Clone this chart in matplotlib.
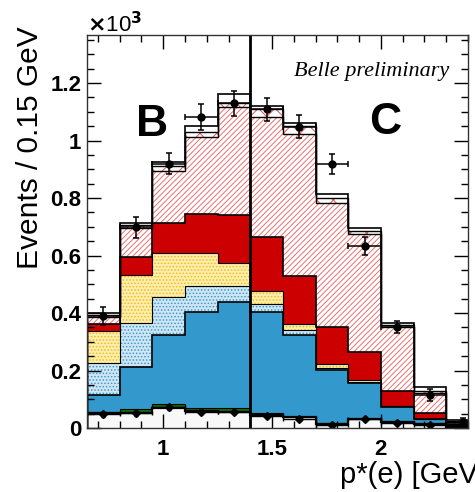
import numpy as np
import matplotlib
matplotlib.use("Agg")
import matplotlib.pyplot as plt
from matplotlib.ticker import MultipleLocator, FuncFormatter

plt.rcParams['font.family'] = ['Liberation Sans', 'DejaVu Sans']
plt.rcParams['font.weight'] = 'bold'
plt.rcParams['hatch.linewidth'] = 0.7

# bin edges of p*(e) [GeV], 0.15 GeV wide
bin_edges = [0.65, 0.80, 0.95, 1.10, 1.25, 1.40, 1.55, 1.70, 1.85, 2.00, 2.15, 2.30, 2.45]

# stacked components, events x10^3 per bin (bottom to top)
comp_bkg   = [0.053, 0.053, 0.071, 0.059, 0.057, 0.045, 0.037, 0.014, 0.030, 0.022, 0.014, 0.005]
comp_green = [0.002, 0.012, 0.011, 0.012, 0.011, 0.008, 0.002, 0.002, 0.002, 0.002, 0.002, 0.001]
comp_blue  = [0.060, 0.148, 0.243, 0.331, 0.370, 0.349, 0.284, 0.187, 0.123, 0.050, 0.014, 0.004]
comp_lblue = [0.112, 0.153, 0.130, 0.091, 0.056, 0.029, 0.018, 0.007, 0.005, 0.001, 0.001, 0.001]
comp_yell  = [0.110, 0.165, 0.155, 0.117, 0.079, 0.047, 0.021, 0.013, 0.007, 0.001, 0.001, 0.001]
comp_red   = [0.024, 0.065, 0.102, 0.133, 0.168, 0.187, 0.167, 0.129, 0.098, 0.054, 0.019, 0.002]
comp_hatch = [0.026, 0.099, 0.182, 0.268, 0.374, 0.416, 0.494, 0.430, 0.410, 0.220, 0.070, 0.006]
comp_cross = [0.006, 0.010, 0.016, 0.019, 0.016, 0.027, 0.027, 0.018, 0.010, 0.007, 0.009, 0.004]
comp_other = [0.006, 0.009, 0.016, 0.022, 0.031, 0.012, 0.012, 0.013, 0.010, 0.007, 0.012, 0.004]

# data points
data_y   = [0.390, 0.698, 0.920, 1.083, 1.129, 1.109, 1.048, 0.918, 0.634, 0.352, 0.115, 0.020]
data_err = [0.030, 0.036, 0.035, 0.045, 0.043, 0.040, 0.040, 0.035, 0.032, 0.020, 0.020, 0.015]
side_y   = [0.048, 0.051, 0.072, 0.057, 0.055, 0.043, 0.030, 0.012, 0.033, 0.019, 0.010, 0.005]
side_err = [0.008, 0.008, 0.009, 0.008, 0.008, 0.007, 0.007, 0.006, 0.007, 0.006, 0.005, 0.004]

edges = np.array(bin_edges)
centers = 0.5 * (edges[1:] + edges[:-1])
halfw = 0.5 * np.diff(edges)

fig = plt.figure(figsize=(4.75, 4.92), dpi=100)
ax = fig.add_axes([87/475, 64/492, 381/475, 393/492])

# (values, face, hatch colour, hatch, outline width)
layers = [
    (comp_bkg,   '#f8f8f8', None,      None,     1.6),
    (comp_green, '#0b6e0b', None,      None,     0.8),
    (comp_blue,  '#3399cc', None,      None,     1.2),
    (comp_lblue, '#cfe6f5', '#3f98cc', '.....',  0.8),
    (comp_yell,  '#fdeeb0', '#f0bd10', '.....',  0.8),
    (comp_red,   '#cc0000', None,      None,     1.2),
    (comp_hatch, 'white',   '#eb7070', '//////', 1.0),
    (comp_cross, 'white',   '#e85050', 'xx',     1.0),
    (comp_other, 'white',   None,      None,     1.2),
]

bottom = np.zeros(len(centers))
tops = []
for vals, face, hcol, hatch, lw in layers:
    top = bottom + np.array(vals)
    if hatch is None:
        ax.stairs(top, edges, baseline=bottom, fill=True, facecolor=face,
                  linewidth=0, zorder=1)
    else:
        ax.stairs(top, edges, baseline=bottom, fill=True, facecolor=face,
                  edgecolor=hcol, hatch=hatch, linewidth=0, zorder=1)
    tops.append((top, lw))
    bottom = top

for top, lw in tops:
    ax.stairs(top, edges, color='black', linewidth=lw, zorder=2)

# data
ax.errorbar(centers, data_y, yerr=data_err, xerr=halfw, fmt='o', color='black',
            markersize=5, elinewidth=1.1, capsize=2.5, capthick=1.1, zorder=5)
ax.errorbar(centers, side_y, yerr=side_err, xerr=halfw, fmt='D', color='black',
            markersize=4, elinewidth=1.0, capsize=1.5, zorder=5)

ax.axvline(1.4, color='black', linewidth=2.0, zorder=6)

ax.set_xlim(0.65, 2.40)
ax.set_ylim(0, 1.367)
ax.xaxis.set_major_locator(MultipleLocator(0.5))
ax.xaxis.set_minor_locator(MultipleLocator(0.1))
ax.yaxis.set_major_locator(MultipleLocator(0.2))
ax.yaxis.set_minor_locator(MultipleLocator(0.05))
ax.xaxis.set_major_formatter(FuncFormatter(lambda v, _: f'{v:g}'))
ax.yaxis.set_major_formatter(FuncFormatter(lambda v, _: f'{v:g}'))
ax.tick_params(which='both', direction='in', top=True, right=True, labelsize=16)
ax.tick_params(which='major', length=10, width=1.0)
ax.tick_params(which='minor', length=5, width=1.0)
ax.tick_params(axis='x', pad=8)
ax.tick_params(axis='y', pad=4)
for s in ax.spines.values():
    s.set_linewidth(1.0)
    s.set_color('#333333')
    s.set_zorder(7)

# texts
ax.text(0.949, 1.057, 'B', fontsize=32, fontweight='bold', ha='center', va='center')
ax.text(2.019, 1.061, 'C', fontsize=32, fontweight='bold', ha='center', va='center')
fig.text(372/475, (492-76)/492, 'Belle preliminary', family='Liberation Serif',
         style='italic', fontweight='normal', fontsize=16, ha='center', va='baseline')
fig.text(87/475, (492-32)/492, r'$\times$10$^{3}$', fontweight='normal', fontsize=16,
         ha='left', va='baseline')
fig.text(30/475, (492-26)/492, 'Events / 0.15 GeV', rotation=90, fontweight='normal',
         fontsize=21.5, ha='center', va='top')
fig.text(340/475, 9/492, 'p*(e) [GeV]', fontweight='normal', fontsize=21,
         ha='left', va='baseline')

fig.savefig('out.png', dpi=100)
